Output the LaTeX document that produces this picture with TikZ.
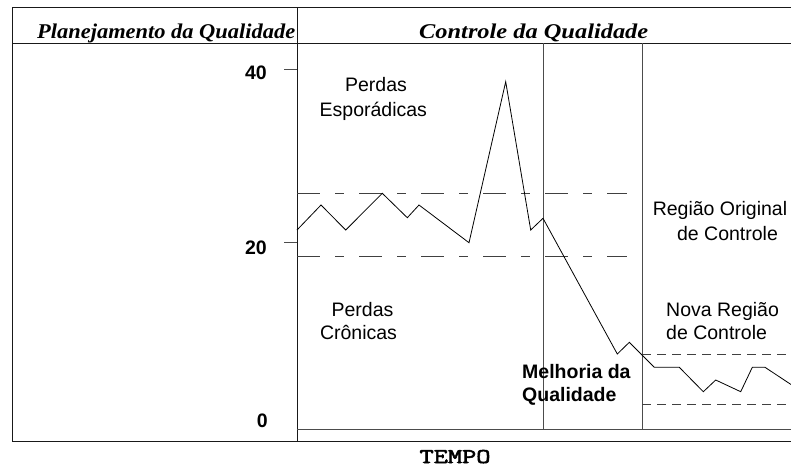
\documentclass[tikz,border=0pt]{standalone}
\usepackage{fontspec}
\setmainfont{Liberation Serif}
\setsansfont{Liberation Sans}
\newfontfamily\tempofont[FakeBold=2.5]{Latin Modern Mono}
\usepackage{graphicx}
\tikzset{
  frameline/.style={line width=1pt, black!90},
  gridline/.style={line width=0.9pt, black!70},
  curve/.style={line width=0.8pt, black},
  ctrldash/.style={line width=0.9pt, black!75, dash pattern=on 23pt off 15pt on 9pt off 15pt},
  newdash/.style={line width=0.9pt, black!75, dash pattern=on 9pt off 6pt},
  lbl/.style={inner sep=0pt, font=\sffamily\fontsize{19.5}{24}\selectfont},
  lblb/.style={inner sep=0pt, font=\sffamily\bfseries\fontsize{19.5}{24}\selectfont},
  hdr/.style={inner sep=0pt, font=\rmfamily\bfseries\itshape\fontsize{21}{22}\selectfont},
  axtitle/.style={inner sep=0pt, font=\tempofont\fontsize{21}{22}\selectfont},
}
\begin{document}
\begin{tikzpicture}[x=1pt,y=-1pt]
\useasboundingbox (0,0) rectangle (791,467);
% frame
\draw[frameline] (791,7) -- (12,7) -- (12,441) -- (791,441);
\draw[frameline] (12,43) -- (791,43);
\draw[frameline] (297,7) -- (297,441);
% axis and region separators
\draw[gridline] (297,429) -- (791,429);
\draw[gridline] (543,43) -- (543,429);
\draw[gridline] (642,43) -- (642,429);
% ticks
\draw[gridline] (284,69) -- (297,69);
\draw[gridline] (284,242) -- (297,242);
% headers
\node[hdr, anchor=base west] (h1) at (37,38) {\resizebox{258pt}{\height}{Planejamento da Qualidade}};
\node[hdr, anchor=base west] (h2) at (419,38) {\resizebox{229pt}{\height}{Controle da Qualidade}};
% axis labels
\node[lblb, anchor=base east] (n40) at (267,79.5) {40};
\node[lblb, anchor=base east] (n20) at (267,254) {20};
\node[lblb, anchor=base east] (n0) at (268,427) {0};
\node[axtitle, anchor=base] (tempo) at (455,463) {\resizebox{71pt}{\height}{TEMPO}};
% control limits
\draw[ctrldash] (297,193) -- (627,193);
\draw[ctrldash] (297,256) -- (627,256);
\draw[newdash] (642,354) -- (791,354);
\draw[newdash] (642,404) -- (791,404);
% data line
\draw[curve] (297,230) -- (321,205) -- (345.7,230) -- (382.3,193.3) -- (407.3,217.7)
  -- (419,205) -- (469,242.7) -- (505.7,81.7) -- (530.7,230) -- (543,218.3)
  -- (617.3,354) -- (629.3,342.3) -- (654.3,367.3) -- (679.3,367.3) -- (703.3,391.7)
  -- (715.7,380) -- (740.7,391.7) -- (752.3,367.3) -- (765,367.3) -- (791,384.5);
% region labels
\node[lbl, anchor=base] (pe1) at (376,91.7) {Perdas};
\node[lbl, anchor=base] (pe2) at (373.3,116.7) {Esporádicas};
\node[lbl, anchor=base] (pc1) at (362.5,316) {Perdas};
\node[lbl, anchor=base] (pc2) at (358.5,339.3) {Crônicas};
\node[lbl, anchor=base] (ro1) at (720,215) {Região Original};
\node[lbl, anchor=base] (ro2) at (727.5,240) {de Controle};
\node[lbl, anchor=base west] (nr1) at (666,316.7) {Nova Região};
\node[lbl, anchor=base west] (nr2) at (666,339.3) {de Controle};
\node[lblb, anchor=base west] (mq1) at (522,378.3) {Melhoria da};
\node[lblb, anchor=base west] (mq2) at (522,401.7) {Qualidade};
\end{tikzpicture}
\end{document}
